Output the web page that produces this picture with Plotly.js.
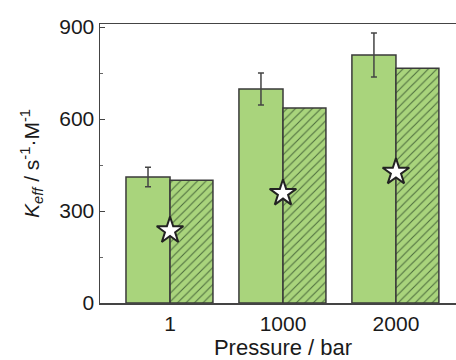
<!DOCTYPE html>
<html>
<head>
<meta charset="utf-8">
<script src="https://cdn.plot.ly/plotly-3.0.1.min.js"></script>
<style>
html,body{margin:0;padding:0;overflow:hidden;background:#fff;}
#chart{width:490px;height:360px;}
</style>
</head>
<body>
<div id="chart"></div>
<script>
// Data
const categories = ['1', '1000', '2000'];
const solidValues = [411, 698, 809];
const solidErrors = [32, 52, 72];
const hatchedValues = [400, 636, 766];
const starValues = [236, 358, 427];

const xIdx = categories.map((c, i) => i);

const green = '#a9d47c';
const dark = '#3a3a3a';

const traces = [
  {
    type: 'bar',
    x: xIdx,
    y: solidValues,
    offset: -0.39,
    width: 0.39,
    marker: {color: green, line: {color: dark, width: 1.5}},
    error_y: {type: 'data', array: solidErrors, visible: true, color: '#444', thickness: 1.5, width: 3},
    showlegend: false,
    hoverinfo: 'skip'
  },
  {
    type: 'bar',
    x: xIdx,
    y: hatchedValues,
    offset: 0,
    width: 0.38,
    marker: {
      color: green,
      line: {color: dark, width: 1.5},
      pattern: {shape: '/', fgcolor: '#4e6e3e', bgcolor: green, size: 6, solidity: 0.18}
    },
    showlegend: false,
    hoverinfo: 'skip'
  },
  {
    type: 'scatter',
    mode: 'markers',
    x: xIdx,
    y: starValues,
    marker: {symbol: 'star', size: 20, color: '#ffffff', line: {color: '#222', width: 2}},
    showlegend: false,
    hoverinfo: 'skip',
    cliponaxis: false
  }
];

const font = {family: '"Liberation Sans", Arial, sans-serif', size: 21, color: '#1a1a1a'};
const titleFont = {family: '"Liberation Sans", Arial, sans-serif', size: 22, color: '#1a1a1a'};

const layout = {
  width: 490,
  height: 360,
  margin: {l: 100, r: 24, t: 24, b: 57},
  paper_bgcolor: '#fff',
  plot_bgcolor: '#fff',
  font: font,
  barmode: 'overlay',
  xaxis: {
    range: [-0.62, 2.62],
    tickmode: 'array',
    tickvals: xIdx,
    ticktext: categories,
    ticks: '',
    showgrid: false,
    zeroline: false,
    showline: true,
    linecolor: '#444',
    linewidth: 1.5,
    mirror: true,
    tickfont: font,
    ticklabelstandoff: 1,
    title: {text: 'Pressure / bar', font: titleFont, standoff: 8}
  },
  yaxis: {
    range: [0, 910],
    tickmode: 'array',
    tickvals: [0, 300, 600, 900],
    ticks: 'inside',
    ticklen: 5,
    tickcolor: '#444',
    minor: {tickvals: [150, 450, 750], ticks: 'inside', ticklen: 3, tickcolor: '#666'},
    showgrid: false,
    zeroline: false,
    showline: true,
    linecolor: '#444',
    linewidth: 1.5,
    mirror: true,
    tickfont: font,
    title: {
      text: '<i>K</i><sub><i>eff</i></sub> / s<sup>-1</sup>·M<sup>-1</sup>',
      font: font,
      standoff: 14
    }
  }
};

Plotly.newPlot('chart', traces, layout, {displayModeBar: false, staticPlot: true});
</script>
</body>
</html>
